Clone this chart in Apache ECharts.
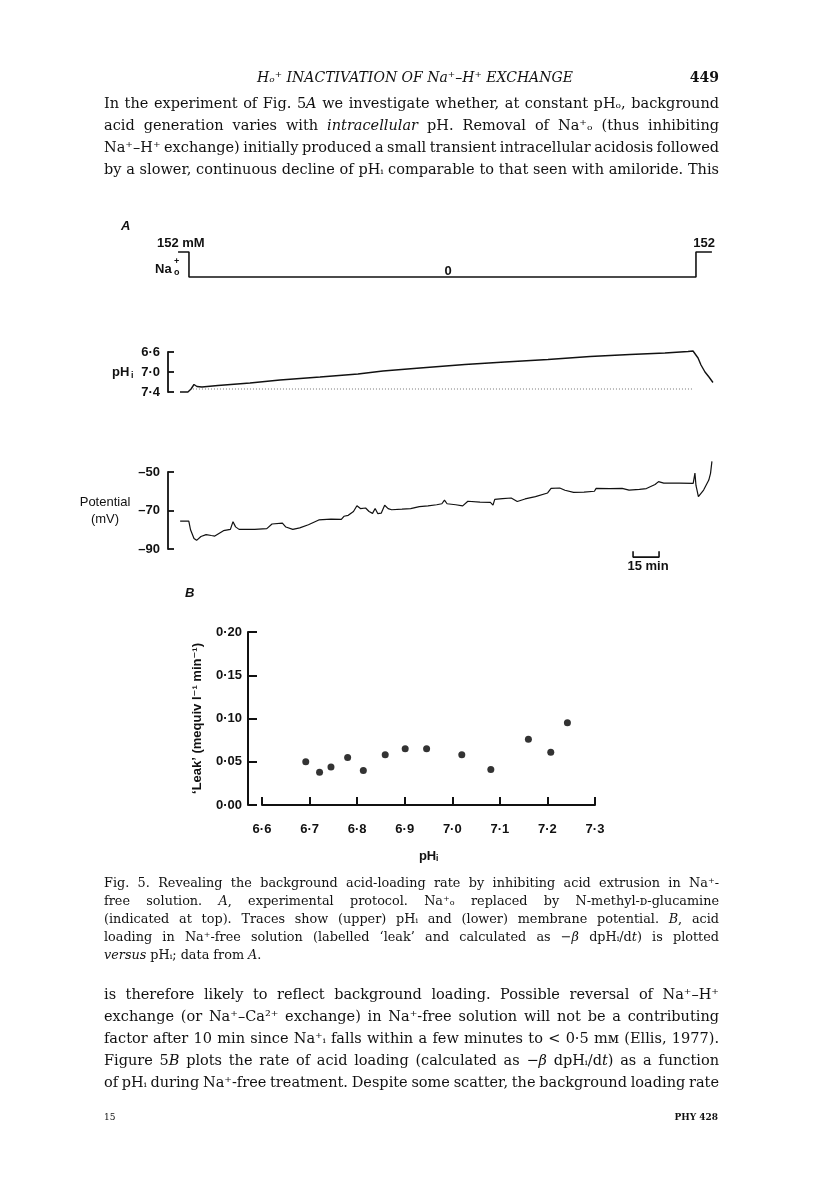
<!DOCTYPE html>
<html>
<head>
<meta charset="utf-8">
<script src="https://cdn.jsdelivr.net/npm/echarts@6.0.0/dist/echarts.min.js"></script>
<style>
html, body { margin: 0; padding: 0; background: #fff; }
#page { width: 816px; height: 1183px; }
</style>
</head>
<body>
<div id="page"></div>
<script>
// protocol: external Na (mM) against time (min)
var protocolT = [5.8, 12.1, 12.1, 304.6, 304.6, 313.8];
var protocolNa = [152, 152, 0, 0, 152, 152];

// intracellular pH trace
var phT = [6.9, 11.5, 13.3, 15.0, 16.7, 19.6, 28.8, 47.3, 64.6, 87.7, 109.6, 124, 145.4, 171.3, 194.4, 219.2, 243.5, 266.5, 286.7, 300, 302.9, 304, 305.8, 307.5, 309.8, 312.1, 314.4];
var phVal = [7.40, 7.40, 7.34, 7.25, 7.29, 7.30, 7.27, 7.22, 7.16, 7.10, 7.04, 6.98, 6.92, 6.85, 6.80, 6.75, 6.69, 6.65, 6.62, 6.59, 6.58, 6.60, 6.72, 6.86, 7.00, 7.10, 7.21];
var phBaseT = [14.4, 303];
var phBase = 7.34;

// membrane potential trace (mV)
var vmT = [7, 12, 13, 15, 16.5, 19, 22, 25, 27, 32, 36, 37.5, 39, 41, 50, 57, 60, 66, 68, 72, 76, 81, 87, 94, 100, 101.5, 104, 107, 109, 111, 114, 116, 118, 119.5, 121, 123, 125, 127, 129, 135, 140, 145, 150, 155, 158, 159.5, 161, 166, 170, 173, 180, 186, 187.5, 188.5, 193, 198, 200, 201.5, 206, 212, 219, 221, 226, 229, 234, 240, 246, 247, 255, 262, 266, 272, 276, 281, 283, 286, 295, 303, 304, 304.6, 306, 309, 312, 313, 313.8];
var vmVal = [-75.5, -75.5, -80, -84.5, -85.5, -83.5, -82.5, -83, -83.3, -80.5, -79.8, -75.8, -78.5, -79.8, -79.8, -79.4, -77, -76.6, -78.6, -79.8, -79, -77.4, -74.9, -74.5, -74.6, -73, -72.5, -70.5, -67.5, -69, -68.7, -70.5, -71.5, -69, -71.6, -71.4, -67.3, -69, -69.6, -69.3, -69, -68, -67.6, -67, -66.5, -64.6, -66.5, -67, -67.6, -65.2, -65.6, -65.8, -67.2, -64.2, -63.8, -63.5, -64.5, -65.3, -64, -62.8, -60.9, -58.5, -58.3, -59.5, -60.6, -60.5, -60, -58.5, -58.6, -58.5, -59.4, -59, -58.6, -56.5, -55, -55.8, -55.8, -55.9, -50.6, -57, -62.8, -59.4, -54.2, -50.7, -44.5];
var scaleBarStart = 268.3;
var scaleBarLen = 15;

// panel B: leak against pHi
var leakPH = [6.692, 6.721, 6.745, 6.780, 6.813, 6.859, 6.901, 6.946, 7.020, 7.081, 7.160, 7.207, 7.242];
var leakRate = [0.050, 0.038, 0.044, 0.055, 0.040, 0.058, 0.065, 0.065, 0.058, 0.041, 0.076, 0.061, 0.095];

// page text, '*' toggles italic
var para1 = [
  'In the experiment of Fig. 5*A* we investigate whether, at constant pHₒ, background',
  'acid generation varies with *intracellular* pH. Removal of Na⁺ₒ (thus inhibiting',
  'Na⁺–H⁺ exchange) initially produced a small transient intracellular acidosis followed',
  'by a slower, continuous decline of pHᵢ comparable to that seen with amiloride. This'
];
var caption = [
  'Fig. 5. Revealing the background acid-loading rate by inhibiting acid extrusion in Na⁺-',
  'free solution. *A*, experimental protocol. Na⁺ₒ replaced by N-methyl-ᴅ-glucamine',
  '(indicated at top). Traces show (upper) pHᵢ and (lower) membrane potential. *B*, acid',
  'loading in Na⁺-free solution (labelled ‘leak’ and calculated as −*β* dpHᵢ/d*t*) is plotted',
  '*versus* pHᵢ; data from *A*.'
];
var para2 = [
  'is therefore likely to reflect background loading. Possible reversal of Na⁺–H⁺',
  'exchange (or Na⁺–Ca²⁺ exchange) in Na⁺-free solution will not be a contributing',
  'factor after 10 min since Na⁺ᵢ falls within a few minutes to < 0·5 mᴍ (Ellis, 1977).',
  'Figure 5*B* plots the rate of acid loading (calculated as −*β* dpHᵢ/d*t*) as a function',
  'of pHᵢ during Na⁺-free treatment. Despite some scatter, the background loading rate'
];

var ink = '#111';
var sans = '"Liberation Sans", Arial, "DejaVu Sans", sans-serif';
var serif = '"DejaVu Serif", serif';

var measureCtx = document.createElement('canvas').getContext('2d');
function textW(s, font) {
  measureCtx.font = font;
  return measureCtx.measureText(s).width;
}

// one line of justified text, split into words
function textLine(str, x0, x1, y, size, justify) {
  var fontN = size + 'px ' + serif;
  var fontI = 'italic ' + fontN;
  var words = str.split(' ').map(function (w) {
    var segs = [], it = false, cur = '';
    for (var i = 0; i < w.length; i++) {
      if (w[i] === '*') {
        if (cur) segs.push({ t: cur, it: it });
        cur = '';
        it = !it;
      } else cur += w[i];
    }
    if (cur) segs.push({ t: cur, it: it });
    var width = 0;
    segs.forEach(function (s) { width += textW(s.t, s.it ? fontI : fontN); });
    return { segs: segs, w: width };
  });
  var total = 0;
  words.forEach(function (w) { total += w.w; });
  var space = textW(' ', fontN);
  var gap = justify && words.length > 1 ? (x1 - x0 - total) / (words.length - 1) : space;
  if (gap < space * 0.6) gap = space * 0.6;
  var full = total + gap * (words.length - 1);
  var sx = full > x1 - x0 ? (x1 - x0) / full : 1;
  var children = [];
  var x = 0;
  words.forEach(function (w) {
    var txt = '';
    w.segs.forEach(function (s) { txt += '{' + (s.it ? 'i' : 'n') + '|' + s.t + '}'; });
    children.push({
      type: 'text', x: x, y: 0,
      style: {
        text: txt, verticalAlign: 'middle', fill: ink,
        rich: {
          n: { fontSize: size, fontFamily: serif, fill: ink },
          i: { fontSize: size, fontFamily: serif, fontStyle: 'italic', fill: ink }
        }
      }
    });
    x += w.w + gap;
  });
  return { type: 'group', x: x0, y: y, scaleX: sx, children: children };
}

function label(txt, x, y, size, opts) {
  opts = opts || {};
  return {
    type: 'text', x: x, y: y,
    style: {
      text: txt, fill: ink, align: opts.align || 'left', verticalAlign: 'middle',
      fontSize: size, fontFamily: opts.family || sans,
      fontWeight: opts.weight || 'bold', fontStyle: opts.style || 'normal'
    }
  };
}

var graphics = [];
graphics.push(label('Hₒ⁺ INACTIVATION OF Na⁺–H⁺ EXCHANGE', 415, 78, 14, { align: 'center', family: serif, weight: 'normal', style: 'italic' }));
graphics.push(label('449', 719, 78, 14, { align: 'right', family: serif }));
para1.forEach(function (s, i) { graphics.push(textLine(s, 104, 719, 104 + i * 22, 14.5, true)); });
caption.forEach(function (s, i) { graphics.push(textLine(s, 104, 719, 884 + i * 18, 12.8, i < caption.length - 1)); });
para2.forEach(function (s, i) { graphics.push(textLine(s, 104, 719, 995 + i * 22, 14.5, true)); });
graphics.push(label('15', 104, 1118, 9, { family: serif, weight: 'normal' }));
graphics.push(label('PHY 428', 718, 1118, 9, { align: 'right', family: serif }));

// figure labels
graphics.push(label('A', 121, 226, 13, { style: 'italic' }));
graphics.push(label('152 mM', 157, 243, 13));
graphics.push(label('152', 715, 243, 13, { align: 'right' }));
graphics.push(label('Na', 155, 269, 13));
graphics.push(label('+', 174, 262, 9));
graphics.push(label('o', 174, 273, 9));
graphics.push(label('0', 448, 271, 13, { align: 'center' }));
graphics.push(label('pH', 112, 372, 13));
graphics.push(label('i', 131, 376, 9));
graphics.push(label('Potential', 105, 502, 13, { align: 'center', weight: 'normal' }));
graphics.push(label('(mV)', 105, 519, 13, { align: 'center', weight: 'normal' }));
graphics.push(label('15 min', 648, 566, 13, { align: 'center' }));
graphics.push(label('B', 185, 593, 13, { style: 'italic' }));

function pairs(xs, ys) {
  return xs.map(function (x, i) { return [x, Array.isArray(ys) ? ys[i] : ys]; });
}

function dotFmt(d) {
  return function (v) { return v.toFixed(d).replace('.', '·'); };
}

var axisLineStyle = { color: ink, width: 1.8 };
var tickText = { color: ink, fontSize: 13, fontWeight: 'bold', fontFamily: sans };

var myChart = echarts.init(document.getElementById('page'), null, { renderer: 'canvas' });
option = {
  backgroundColor: '#fff',
  animation: false,
  grid: [
    { left: 168, top: 252, width: 572, height: 25 },
    { left: 168, top: 352, width: 572, height: 40 },
    { left: 168, top: 472, width: 572, height: 77 },
    { left: 262, top: 632, width: 333, height: 173 }
  ],
  xAxis: [
    { gridIndex: 0, type: 'value', min: 0, max: 330, show: false },
    { gridIndex: 1, type: 'value', min: 0, max: 330, show: false },
    { gridIndex: 2, type: 'value', min: 0, max: 330, show: false },
    {
      gridIndex: 3, type: 'value', min: 6.6, max: 7.3, interval: 0.1, offset: 5,
      axisLine: { show: true, lineStyle: { color: ink, width: 2 } },
      axisTick: { show: true, inside: true, length: 8, lineStyle: { color: ink, width: 2 } },
      axisLabel: Object.assign({ margin: 13, formatter: dotFmt(1) }, tickText),
      splitLine: { show: false },
      name: 'pHᵢ', nameLocation: 'middle', nameGap: 40,
      nameTextStyle: { color: ink, fontSize: 13, fontWeight: 'bold', fontFamily: sans }
    }
  ],
  yAxis: [
    { gridIndex: 0, type: 'value', min: 0, max: 152, show: false },
    {
      gridIndex: 1, type: 'value', min: 6.6, max: 7.4, interval: 0.4, inverse: true,
      axisLine: { show: true, lineStyle: axisLineStyle },
      axisTick: { show: true, inside: true, length: 6, lineStyle: axisLineStyle },
      axisLabel: Object.assign({ margin: 8, formatter: dotFmt(1) }, tickText),
      splitLine: { show: false }
    },
    {
      gridIndex: 2, type: 'value', min: -90, max: -50, interval: 20,
      axisLine: { show: true, lineStyle: axisLineStyle },
      axisTick: { show: true, inside: true, length: 6, lineStyle: axisLineStyle },
      axisLabel: Object.assign({ margin: 8, formatter: function (v) { return '–' + Math.abs(v); } }, tickText),
      splitLine: { show: false }
    },
    {
      gridIndex: 3, type: 'value', min: 0, max: 0.2, interval: 0.05, offset: 14,
      axisLine: { show: true, lineStyle: { color: ink, width: 2 } },
      axisTick: { show: true, inside: true, length: 9, lineStyle: { color: ink, width: 2 } },
      axisLabel: Object.assign({ margin: 6, formatter: dotFmt(2) }, tickText),
      splitLine: { show: false },
      name: '‘Leak’ (mequiv l⁻¹ min⁻¹)', nameLocation: 'middle', nameGap: 44, nameRotate: 90,
      nameTextStyle: { color: ink, fontSize: 13, fontWeight: 'bold', fontFamily: sans }
    }
  ],
  series: [
    {
      name: 'Na', type: 'line', xAxisIndex: 0, yAxisIndex: 0, symbol: 'none', clip: false,
      lineStyle: { color: ink, width: 1.6 },
      data: pairs(protocolT, protocolNa)
    },
    {
      name: 'pHi', type: 'line', xAxisIndex: 1, yAxisIndex: 1, symbol: 'none', clip: false,
      lineStyle: { color: ink, width: 1.4 },
      data: pairs(phT, phVal)
    },
    {
      name: 'baseline', type: 'line', xAxisIndex: 1, yAxisIndex: 1, symbol: 'none',
      lineStyle: { color: '#777', width: 1, type: [1, 2] },
      data: pairs(phBaseT, phBase)
    },
    {
      name: 'Vm', type: 'line', xAxisIndex: 2, yAxisIndex: 2, symbol: 'none', clip: false,
      lineStyle: { color: ink, width: 1.2 },
      data: pairs(vmT, vmVal)
    },
    {
      name: 'scale', type: 'line', xAxisIndex: 2, yAxisIndex: 2, symbol: 'none', clip: false,
      lineStyle: { color: ink, width: 1.6 },
      data: [[scaleBarStart, -91.2], [scaleBarStart, -94.2], [scaleBarStart + scaleBarLen, -94.2], [scaleBarStart + scaleBarLen, -91.2]]
    },
    {
      name: 'leak', type: 'scatter', xAxisIndex: 3, yAxisIndex: 3, symbolSize: 7,
      itemStyle: { color: '#000' },
      data: pairs(leakPH, leakRate)
    }
  ],
  graphic: graphics
};
myChart.setOption(option);
</script>
</body>
</html>
